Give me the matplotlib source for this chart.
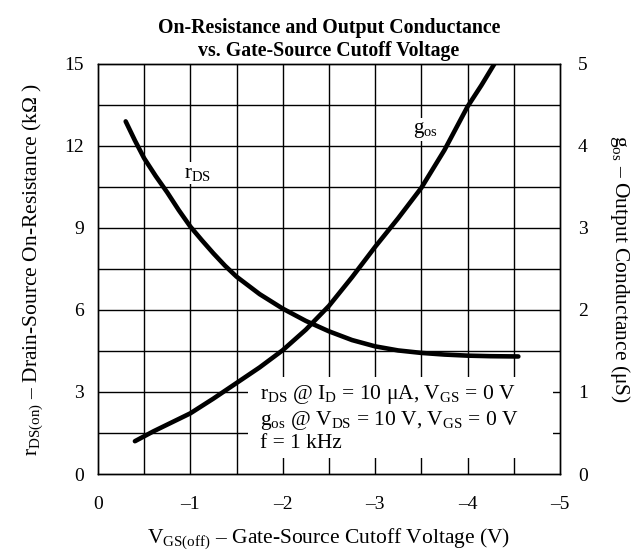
import matplotlib
matplotlib.use("Agg")
from matplotlib import pyplot as plt
from matplotlib.patches import Rectangle

plt.rcParams['font.family'] = ['Liberation Serif', 'DejaVu Serif']
plt.rcParams['mathtext.fontset'] = 'custom'
plt.rcParams['mathtext.rm'] = 'Liberation Serif'
plt.rcParams['mathtext.it'] = 'Liberation Serif'

# r_DS (kOhm, left axis) vs V_GS(off)
vgs_r = [-0.3, -0.4, -0.5, -0.625, -0.75, -0.875, -1.0, -1.125, -1.25, -1.375,
         -1.5, -1.75, -2.0, -2.25, -2.5, -2.75, -3.0, -3.25, -3.5, -3.75,
         -4.0, -4.25, -4.55]
rds = [12.9, 12.2, 11.55, 10.9, 10.3, 9.65, 9.05, 8.55, 8.07, 7.62,
       7.22, 6.58, 6.05, 5.6, 5.22, 4.9, 4.67, 4.52, 4.43, 4.37,
       4.33, 4.31, 4.3]

# g_os (uS, right axis) vs V_GS(off)
vgs_g = [-0.4, -0.6, -0.8, -1.0, -1.25, -1.5, -1.75, -2.0, -2.25, -2.5,
         -2.75, -3.0, -3.25, -3.5, -3.75, -4.0, -4.15, -4.29]
gos = [0.4, 0.52, 0.63, 0.74, 0.92, 1.11, 1.3, 1.51, 1.76, 2.05,
       2.4, 2.77, 3.12, 3.49, 3.95, 4.48, 4.74, 5.0]

xticks = [0, -1, -2, -3, -4, -5]
xtick_labels = ['0', '–1', '–2', '–3', '–4', '–5']
yticks_left = [0, 3, 6, 9, 12, 15]
yticks_right = [0, 1, 2, 3, 4, 5]

fs_tick = 14
fs_lab = 15.5

fig = plt.figure(figsize=(6.37, 5.54), dpi=100)
ax = fig.add_axes([0.1538, 0.1444, 0.7252, 0.7401])
ax2 = ax.twinx()

ax.set_xlim(0, -5)
ax.set_ylim(0, 15)
ax2.set_ylim(0, 5)

# grid
for gx in [i * -0.5 for i in range(1, 10)]:
    ax.axvline(gx, color='black', lw=1.0, zorder=0.5)
for gy in [i * 1.5 for i in range(1, 10)]:
    ax.axhline(gy, color='black', lw=1.0, zorder=0.5)

# white box behind the conditions note
ax.add_patch(Rectangle((-1.62, 0.6), -3.30, 2.95, facecolor='white',
                       edgecolor='none', zorder=1))

ax.plot(vgs_r, rds, color='black', lw=3.3, solid_capstyle='round',
        solid_joinstyle='round', zorder=3)
ax.plot(vgs_g, [g * 3 for g in gos], color='black', lw=3.3,
        solid_capstyle='round', solid_joinstyle='round', zorder=3)

ax.text(-1.08, 11.0, r'r$_\mathrm{DS}$', fontsize=15, ha='center', va='center',
        zorder=2, bbox=dict(facecolor='white', edgecolor='none', pad=1))
ax.text(-3.54, 12.6, r'g$_\mathrm{os}$', fontsize=15, ha='center', va='center',
        zorder=2, bbox=dict(facecolor='white', edgecolor='none', pad=1))

note = (r'r$_\mathrm{DS}$ @ I$_\mathrm{D}$ = 10 $\mathrm{\mu}$A, V$_\mathrm{GS}$ = 0 V' + '\n' +
        r'g$_\mathrm{os}$ @ V$_\mathrm{DS}$ = 10 V, V$_\mathrm{GS}$ = 0 V' + '\n' +
        'f = 1 kHz')
ax.text(-1.75, 2.05, note, fontsize=fs_lab, ha='left', va='center', zorder=2,
        linespacing=1.15)

ax.set_xticks(xticks)
ax.set_xticklabels(xtick_labels)
ax.set_yticks(yticks_left)
ax2.set_yticks(yticks_right)
ax.tick_params(axis='x', length=0, labelsize=fs_tick, pad=16)
ax.tick_params(axis='y', length=0, labelsize=fs_tick, pad=10)
ax2.tick_params(axis='y', length=0, labelsize=fs_tick, pad=13)
for a in (ax, ax2):
    for s in a.spines.values():
        s.set_linewidth(1.0)

ax.set_xlabel(r'V$_\mathrm{GS(off)}$ – Gate-Source Cutoff Voltage (V)',
              fontsize=fs_lab, labelpad=9)
ax.set_ylabel(r'r$_\mathrm{DS(on)}$ – Drain-Source On-Resistance (k$\Omega$ )',
              fontsize=fs_lab, labelpad=14)
ax2.set_ylabel(r'g$_\mathrm{os}$ – Output Conductance ($\mathrm{\mu}$S)',
               fontsize=fs_lab, rotation=270, labelpad=32)

ax.set_title('On-Resistance and Output Conductance\nvs. Gate-Source Cutoff Voltage',
             fontsize=14.3, fontweight='bold', pad=6, linespacing=1.2)

fig.savefig('out.png', dpi=100)
